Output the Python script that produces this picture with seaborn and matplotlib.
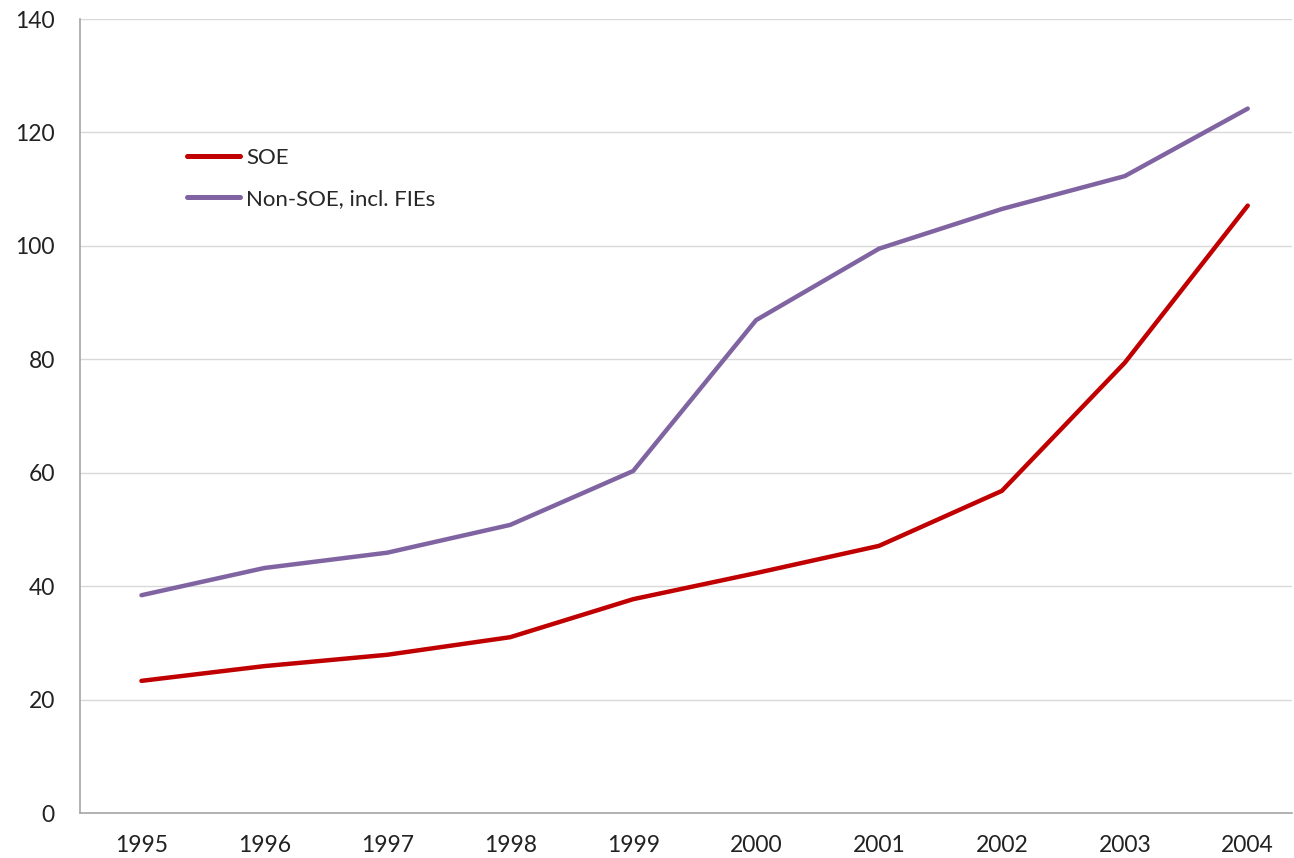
import matplotlib
matplotlib.use('Agg')
import matplotlib.pyplot as plt
import seaborn as sns
import pandas as pd

years = ["1995", "1996", "1997", "1998", "1999", "2000", "2001", "2002", "2003", "2004"]
soe = [23.3, 25.9, 27.9, 31.0, 37.7, 42.3, 47.1, 56.8, 79.4, 107.1]
non_soe = [38.4, 43.2, 45.9, 50.8, 60.3, 86.9, 99.5, 106.5, 112.3, 124.2]
series_names = ["SOE", "Non-SOE, incl. FIEs"]
series_colors = ["#C00000", "#8064A2"]

df = pd.DataFrame({
    "year": years * 2,
    "value": soe + non_soe,
    "series": [series_names[0]] * len(years) + [series_names[1]] * len(years),
})

sns.set_style("white")
plt.rcParams['font.family'] = ['Lato', 'DejaVu Sans']

fig = plt.figure(figsize=(12.94, 8.58), dpi=100)
ax = fig.add_axes([80 / 1294, 45 / 858, (1292 - 80) / 1294, (813 - 19) / 858])

sns.lineplot(data=df, x="year", y="value", hue="series", palette=series_colors,
             linewidth=3.2, ax=ax, sort=False)

ax.set_ylim(0, 140)
ax.set_yticks(range(0, 141, 20))
ax.set_xlim(-0.5, 9.36)
ax.yaxis.grid(True, color="#D9D9D9", linewidth=1)
ax.set_axisbelow(True)
ax.set_xlabel("")
ax.set_ylabel("")
for s in ["top", "right"]:
    ax.spines[s].set_visible(False)
for s in ["left", "bottom"]:
    ax.spines[s].set_color("#A6A6A6")
    ax.spines[s].set_linewidth(1.2)
ax.tick_params(axis="both", length=0, labelsize=16.5, colors="#222222")
ax.tick_params(axis="x", pad=16)
ax.tick_params(axis="y", pad=18)

leg = ax.legend(loc="upper left", bbox_to_anchor=(0.0718, 0.863), frameon=False,
                fontsize=16, handlelength=2.4, handletextpad=0.25, labelspacing=0.95)
for line in leg.get_lines():
    line.set_linewidth(3.6)

fig.savefig("out.png", dpi=100)
